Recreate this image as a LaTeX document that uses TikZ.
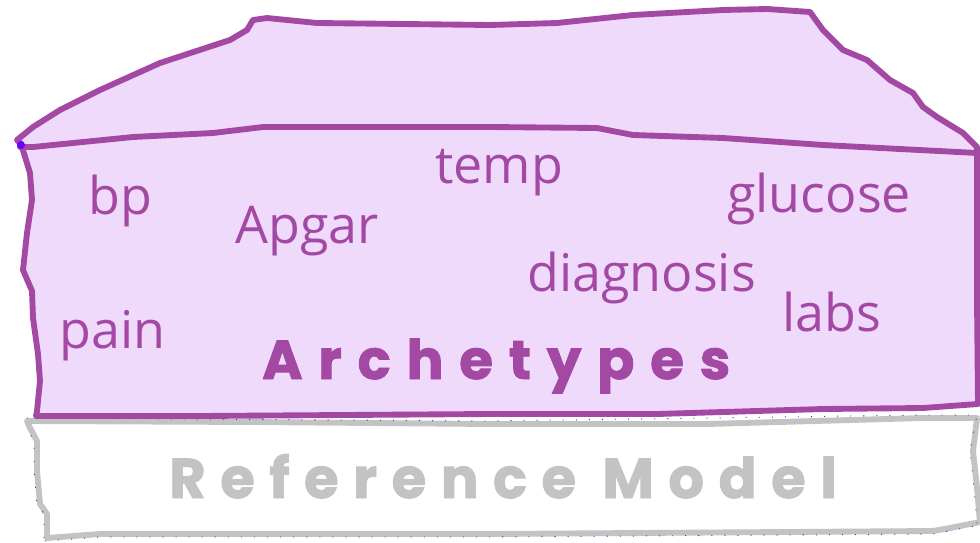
\documentclass[tikz,border=0pt]{standalone}
\usepackage{fontspec}
\setmainfont{Open Sans}
\newfontfamily\archfont{Poppins}[LetterSpace=29, BoldFeatures={FakeBold=1.6}]
\newfontfamily\reffont{Poppins}[LetterSpace=26, BoldFeatures={FakeBold=1.6}]
\definecolor{pplum}{HTML}{A349A4}
\definecolor{plav}{HTML}{EFDAFB}
\definecolor{pgray}{HTML}{C3C3C3}
\definecolor{pdot}{HTML}{6A00FF}
\tikzset{
  purpleline/.style={draw=pplum, line width=4.4pt, line join=round, line cap=round},
  grayline/.style={draw=pgray, line width=4.4pt, line join=round, line cap=round},
  speckle/.style={draw=blue!80, line width=0.7pt, dash pattern=on 0.8pt off 9pt},
  word/.style={text=pplum, inner sep=0pt, anchor=base west, font=\fontsize{39}{44}\selectfont},
  archlabel/.style={text=pplum, inner sep=0pt, anchor=base west, font=\archfont\bfseries\fontsize{41}{46}\selectfont},
  reflabel/.style={text=pgray, inner sep=0pt, anchor=base west, font=\reffont\bfseries\fontsize{42}{48}\selectfont}
}
\begin{document}
\begin{tikzpicture}[x=0.75pt,y=-0.75pt]
\useasboundingbox (0,0) rectangle (980,542);
% reference model box
\path[grayline, fill=white] (27,421) -- (250,422) -- (490,424) -- (707,424) -- (923,418) -- (977,418)
  -- (973,451) -- (977,488) -- (980,522) -- (950,528) -- (933,531) -- (490,534) -- (100,534) -- (47,538)
  -- (47,514) -- (40,504) -- (37,471) -- (37,441) -- (30,428) -- cycle;
\path[speckle] (27,418) -- (490,421) -- (923,415) -- (977,415) -- (970,451) -- (974,488) -- (977,524);
\path[speckle] (45,541) -- (100,537) -- (490,537) -- (933,534) -- (980,525);
\path[speckle] (44,538) -- (44,514) -- (37,504) -- (34,471) -- (34,441) -- (27,428);
% archetypes body (lid + front)
\path[purpleline, fill=plav] (20,143) -- (22,147) -- (30,173) -- (32,200) -- (27,233) -- (23,270) -- (32,291)
  -- (33,318) -- (38,354) -- (40,381) -- (37,411) -- (36,416) -- (200,416) -- (490,414) -- (657,414)
  -- (823,409) -- (923,408) -- (978,404) -- (977,300) -- (977,157) -- (977,147) -- (963,133) -- (937,117)
  -- (923,107) -- (913,93) -- (890,80) -- (867,60) -- (843,50) -- (823,30) -- (810,12) -- (767,9)
  -- (723,10) -- (633,15) -- (557,23) -- (490,25) -- (317,23) -- (267,18) -- (253,20) -- (247,30)
  -- (230,40) -- (160,63) -- (100,90) -- (60,110) -- (33,127) -- (17,140) -- cycle;
\path[purpleline] (20,147) -- (33,147) -- (133,137) -- (213,133) -- (263,127) -- (490,127) -- (597,128)
  -- (633,135) -- (723,138) -- (823,145) -- (977,153);
\fill[pdot] (21,145) circle (4);
% words
\node[word] (bp) at (88,214) {bp};
\node[word] (apgar) at (235,243) {Apgar};
\node[word] (temp) at (435,183) {temp};
\node[word] (glucose) at (727,212) {glucose};
\node[word] (diagnosis) at (527,291) {diagnosis};
\node[word] (labs) at (782,331) {labs};
\node[word] (pain) at (59,348) {pain};
\node[archlabel] (arch) at (262,379) {Archetypes};
\node[reflabel] (refmodel) at (169,498) {Reference Model};
\end{tikzpicture}
\end{document}
